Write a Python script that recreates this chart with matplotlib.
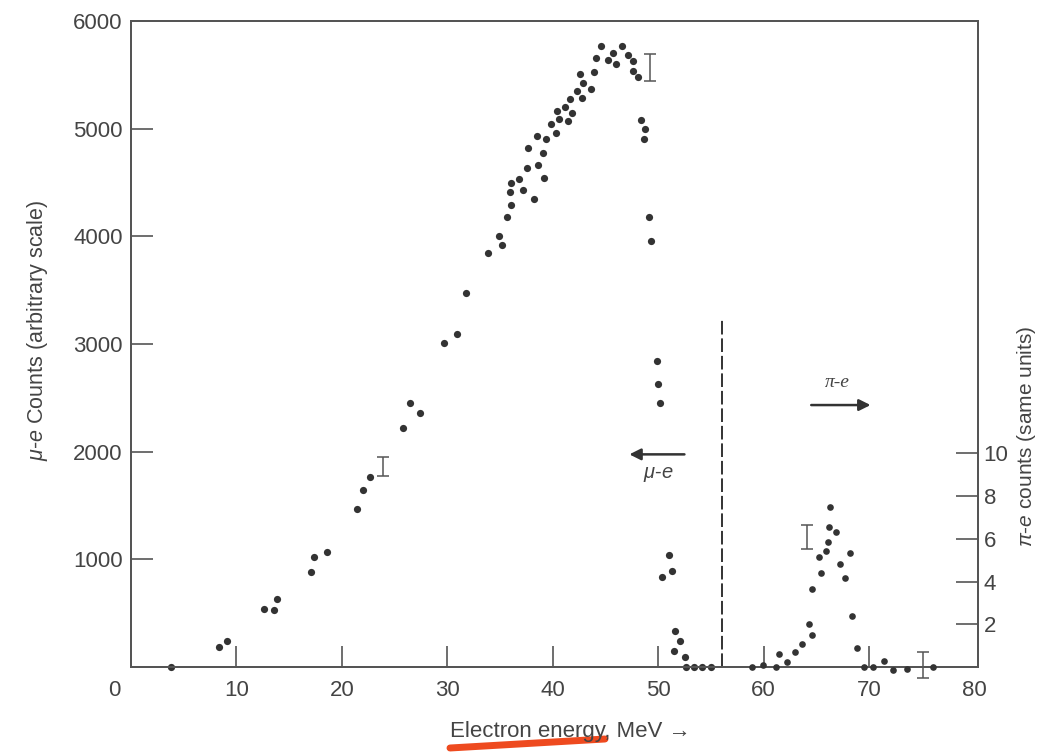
import matplotlib.pyplot as plt
from matplotlib.lines import Line2D
from matplotlib.transforms import ScaledTranslation

plt.rcParams["font.family"] = ["Liberation Sans", "DejaVu Sans"]
plt.rcParams["mathtext.fontset"] = "custom"
plt.rcParams["mathtext.rm"] = "Liberation Sans"
plt.rcParams["mathtext.it"] = "Liberation Sans:italic"

# mu-e spectrum (left axis, arbitrary scale)
mu_energy = [3.8, 8.36, 9.12, 12.65, 13.57, 13.89, 17.1, 17.4, 18.6, 21.44,
             21.97, 22.64, 25.76, 26.5, 27.37, 29.65, 30.95, 31.8, 33.89, 34.87,
             35.15, 35.66, 35.9, 36.0, 36.07, 36.8, 37.14, 37.58, 37.61, 38.18,
             38.5, 38.6, 39.07, 39.13, 39.32, 39.83, 40.27, 40.36, 40.59, 41.12,
             41.4, 41.6, 41.82, 42.26, 42.58, 42.8, 42.86, 43.58, 43.93, 44.09,
             44.57, 45.2, 45.7, 45.99, 46.56, 47.1, 47.6, 47.6, 48.08, 48.39,
             48.7, 48.77, 49.08, 49.27, 49.9, 50.0, 50.19, 50.35, 51.07, 51.33,
             51.5, 51.6, 52.1, 52.56, 52.6, 53.4, 54.2, 55.05]
mu_counts = [0, 189, 245, 539, 532, 632, 880, 1019, 1071, 1470,
             1641, 1762, 2217, 2449, 2362, 3006, 3093, 3477, 3848, 4003,
             3916, 4177, 4409, 4498, 4288, 4532, 4430, 4635, 4820, 4347,
             4932, 4665, 4777, 4545, 4901, 5040, 4957, 5161, 5093, 5198,
             5074, 5275, 5142, 5353, 5508, 5288, 5421, 5371, 5526, 5653,
             5768, 5641, 5700, 5598, 5768, 5684, 5628, 5538, 5477, 5080,
             4901, 4994, 4182, 3954, 2842, 2632, 2455, 833, 1043, 889,
             152, 331, 239, 96, 0, 0, 0, 0]

# pi-e spectrum (right axis, same units)
pi_energy = [58.88, 59.95, 61.15, 61.47, 62.23, 62.98, 63.62, 64.28, 64.63, 64.6,
             65.26, 65.45, 65.96, 66.08, 66.18, 66.33, 66.87, 67.28, 67.76, 68.17,
             68.39, 68.83, 69.53, 70.41, 71.42, 72.25, 73.57, 76.04]
pi_counts = [0, 0.1, 0, 0.6, 0.25, 0.69, 1.06, 2.0, 1.52, 3.64,
             5.15, 4.39, 5.43, 5.86, 6.54, 7.47, 6.3, 4.83, 4.19, 5.36,
             2.41, 0.89, 0, 0, 0.27, -0.15, -0.1, 0]

# typical error bars
mu_err_x = [23.87, 49.18]
mu_err_y = [1860, 5566]
mu_err = [88, 127]
pi_err_x = [64.12, 75.09]
pi_err_y = [6.09, 0.1]
pi_err = [0.58, 0.62]

divider_x = 56.04
divider_top = 3238

ink = "#333333"
line_c = "#555555"
txt_c = "#444444"

fig = plt.figure(figsize=(10.42, 7.52), dpi=100)
ax = fig.add_axes([0.1257, 0.1130, 0.8129, 0.8591])
ax2 = ax.twinx()

ax.set_xlim(0, 80.33)
ax.set_ylim(0, 6000)
ax2.set_ylim(0, 30.25)

ax.plot(mu_energy, mu_counts, "o", color=ink, ms=5.2, mec="none", clip_on=False, zorder=5)
ax2.plot(pi_energy, pi_counts, "o", color=ink, ms=4.8, mec="none", clip_on=False, zorder=5)

ax.errorbar(mu_err_x, mu_err_y, yerr=mu_err, fmt="none", ecolor=line_c,
            elinewidth=1.1, capsize=4, capthick=1.1)
ax2.errorbar(pi_err_x, pi_err_y, yerr=pi_err, fmt="none", ecolor=line_c,
             elinewidth=1.1, capsize=4, capthick=1.1, clip_on=False)

ax.vlines(divider_x, 0, divider_top, colors=ink, linewidth=1.4,
          linestyles=(0, (7, 2)))

# region markers
ax.annotate("", xy=(47.0, 1975), xytext=(52.75, 1975),
            arrowprops=dict(arrowstyle="-|>", color=ink, lw=1.8, mutation_scale=17))
ax.text(50.0, 1790, r"$\mu$-$e$", fontsize=14.5, color=txt_c,
        ha="center", va="center")
ax.annotate("", xy=(70.4, 2433), xytext=(64.25, 2433),
            arrowprops=dict(arrowstyle="-|>", color=ink, lw=1.8, mutation_scale=17))
ax.text(66.94, 2640, "π-e", fontsize=14, color=txt_c, style="italic",
        family="Liberation Serif", ha="center", va="center")

for a in (ax, ax2):
    for s in a.spines.values():
        s.set_color(line_c)
        s.set_linewidth(1.4)

ax.set_xticks(range(0, 81, 10))
ax.set_yticks(range(1000, 6001, 1000))
ax.tick_params(axis="x", direction="in", length=15, width=1.2, color=line_c,
               pad=9, labelsize=16, labelcolor=txt_c)
ax.tick_params(axis="y", direction="in", length=16, width=1.2, color=line_c,
               pad=6, labelsize=16, labelcolor=txt_c)
ax2.set_yticks([2, 4, 6, 8, 10])
ax2.tick_params(axis="y", direction="in", length=16, width=1.2, color=line_c,
                pad=4, labelsize=16, labelcolor=txt_c)

# no tick mark at 80 (right spine), and the "0" sits left of the corner
ax.xaxis.get_major_ticks()[-1].tick1line.set_visible(False)
zero_lab = ax.get_xticklabels()[0]
zero_lab.set_transform(zero_lab.get_transform()
                       + ScaledTranslation(-0.17, 0, fig.dpi_scale_trans))

fig.text(38 / 1042, 1 - 330 / 752, r"$\mu$-$e$ Counts (arbitrary scale)",
         rotation=90, ha="center", va="center", fontsize=15.5, color=txt_c)
fig.text(1027 / 1042, 1 - 436 / 752, r"$\pi$-$e$ counts (same units)",
         rotation=90, ha="center", va="center", fontsize=15, color=txt_c)
fig.text(570 / 1042, 1 - 731 / 752, "Electron energy, MeV →",
         ha="center", va="center", fontsize=16, color=txt_c)

# red marker stroke under the axis title
fig.add_artist(Line2D([450 / 1042, 605 / 1042], [1 - 748 / 752, 1 - 739 / 752],
                      color="#ee4a1f", lw=5, solid_capstyle="round"))

fig.savefig("out.png", dpi=100)
